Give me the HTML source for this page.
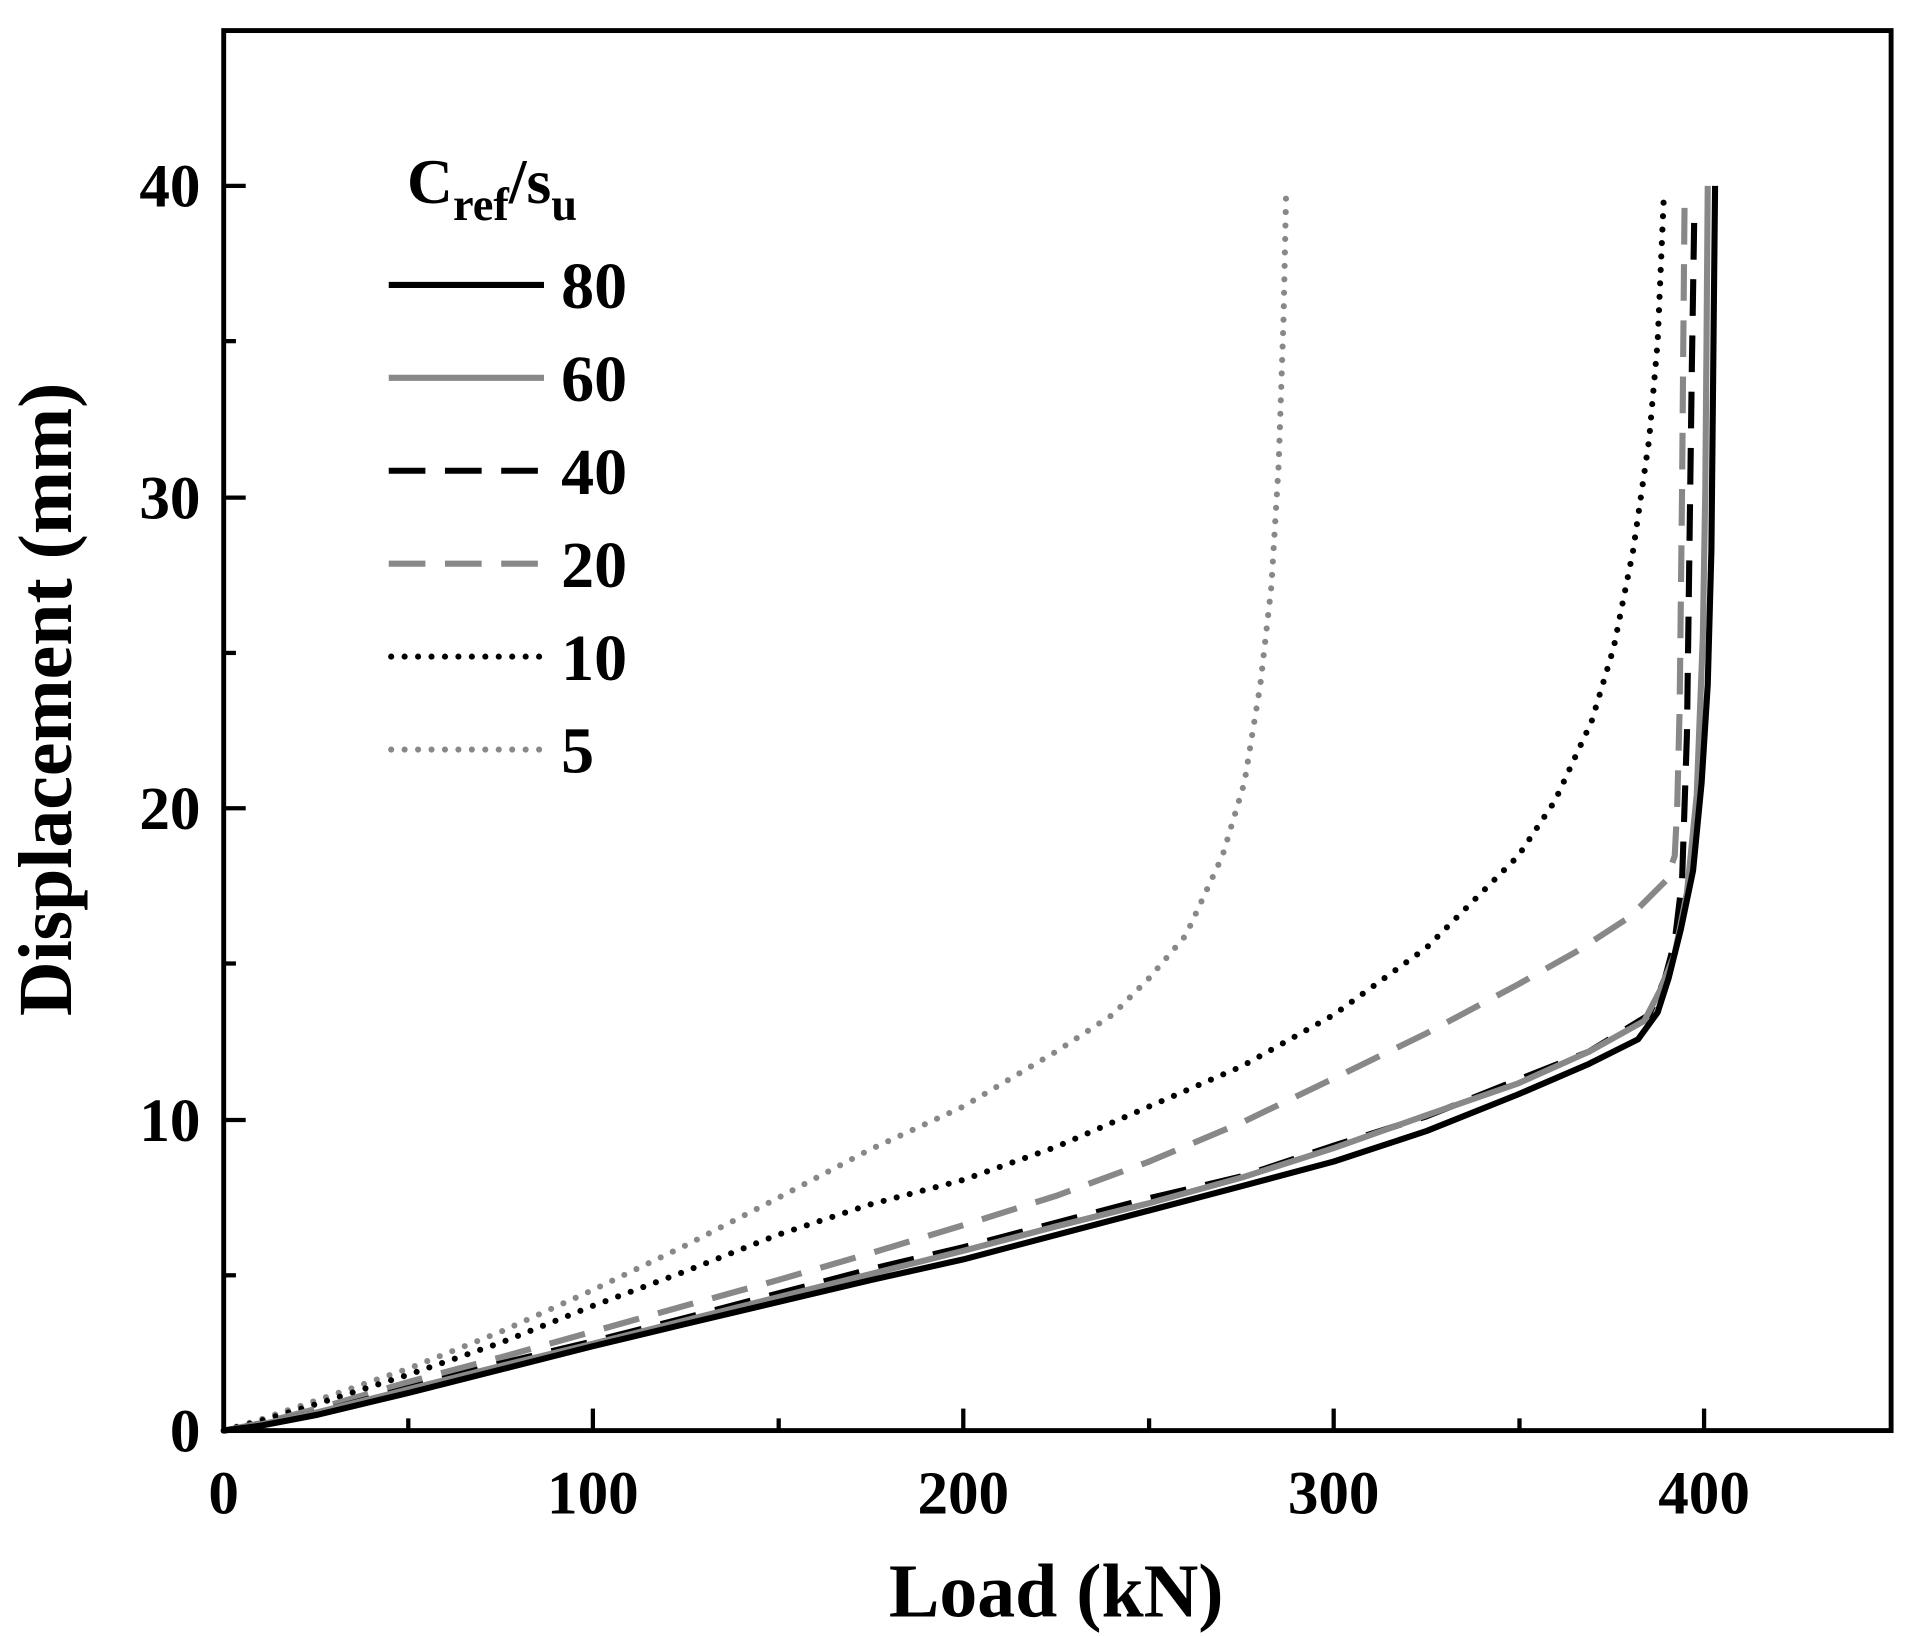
<!DOCTYPE html>
<html><head><style>html,body{margin:0;padding:0;background:#fff}svg{display:block}</style></head>
<body>
<svg width="1907" height="1636" viewBox="0 0 1560 1338" preserveAspectRatio="none" xmlns="http://www.w3.org/2000/svg" font-family="Liberation Serif, serif" font-weight="bold">
<g fill="none" stroke-linejoin="round">
<path d="M183,1170 L213,1161 L260,1145 L335,1119 L410,1089 L485,1055 L560,1019 L636,980 L712,940 L788,905 L864,860 L910,830 L940,800 L970,765 L1000,700 L1018,640 L1031,560 L1040,480 L1046,380 L1050,260 L1052,162" stroke="#888" stroke-width="5" stroke-dasharray="0 11" stroke-linecap="round"/>
<path d="M183,1170 L213,1162 L260,1148 L335,1124 L410,1098 L485,1068 L560,1040 L636,1010 L712,985 L788,965 L864,938 L940,905 L1016,872 L1091,830 L1167,775 L1242,700 L1272,655 L1302,590 L1320,530 L1336,450 L1349,360 L1356,280 L1361,162" stroke="#000" stroke-width="5" stroke-dasharray="0 11" stroke-linecap="round"/>
<path d="M183,1170 L213,1164 L260,1152 L335,1130 L410,1110 L485,1089 L560,1068 L636,1047 L712,1025 L788,1002 L864,978 L940,950 L1016,918 L1091,882 L1167,845 L1242,805 L1290,778 L1333,750 L1363,720 L1370,700 L1372,660 L1374,580 L1376,400 L1377,280 L1378,170" stroke="#888" stroke-width="5" stroke-dasharray="30 16"/>
<path d="M183,1170 L213,1165 L260,1155 L335,1135 L410,1115 L485,1097 L560,1078 L636,1058 L712,1038 L788,1020 L864,1000 L940,980 L1016,962 L1091,937 L1167,913 L1242,883 L1300,860 L1349,830 L1362,800 L1370,770 L1376,720 L1380,600 L1382,450 L1384,300 L1386,175" stroke="#000" stroke-width="5" stroke-dasharray="30 16"/>
<path d="M183,1170 L213,1165 L260,1155 L335,1136 L410,1117 L485,1099 L560,1080 L636,1061 L712,1042 L788,1023 L864,1003 L940,984 L1016,963 L1091,939 L1167,912 L1242,886 L1300,860 L1345,835 L1358,810 L1370,780 L1380,730 L1388,650 L1393,520 L1395,400 L1396,280 L1397,152" stroke="#888" stroke-width="5"/>
<path d="M183,1170 L213,1166 L260,1157 L335,1139 L410,1120 L485,1101 L560,1083 L636,1065 L712,1047 L788,1030 L864,1010 L940,990 L1016,970 L1091,950 L1167,925 L1242,895 L1300,870 L1340,850 L1356,828 L1365,800 L1375,760 L1385,712 L1392,640 L1397,560 L1400,450 L1401,350 L1402,250 L1403,152" stroke="#000" stroke-width="5"/>
</g>
<rect x="183" y="25" width="1364" height="1145" fill="none" stroke="#000" stroke-width="4"/>
<g stroke="#000" stroke-width="3.5">
<line x1="334" y1="1170" x2="334" y2="1160"/><line x1="485" y1="1170" x2="485" y2="1152"/>
<line x1="637" y1="1170" x2="637" y2="1160"/><line x1="788" y1="1170" x2="788" y2="1152"/>
<line x1="940" y1="1170" x2="940" y2="1160"/><line x1="1091" y1="1170" x2="1091" y2="1152"/>
<line x1="1243" y1="1170" x2="1243" y2="1160"/><line x1="1394" y1="1170" x2="1394" y2="1152"/>
<line x1="183" y1="1043" x2="193" y2="1043"/><line x1="183" y1="916" x2="201" y2="916"/>
<line x1="183" y1="788" x2="193" y2="788"/><line x1="183" y1="661" x2="201" y2="661"/>
<line x1="183" y1="534" x2="193" y2="534"/><line x1="183" y1="407" x2="201" y2="407"/>
<line x1="183" y1="279" x2="193" y2="279"/><line x1="183" y1="152" x2="201" y2="152"/>
</g>
<g font-size="50" text-anchor="middle">
<text x="183" y="1238">0</text><text x="485" y="1238">100</text><text x="788" y="1238">200</text><text x="1091" y="1238">300</text><text x="1394" y="1238">400</text>
</g>
<g font-size="50" text-anchor="end">
<text x="164" y="1187">0</text><text x="164" y="933">10</text><text x="164" y="678">20</text><text x="164" y="424">30</text><text x="164" y="169">40</text>
</g>
<text x="864" y="1322" font-size="62" text-anchor="middle">Load (kN)</text>
<text transform="translate(58,572) rotate(-90)" font-size="62" text-anchor="middle">Displacement (mm)</text>
<text x="333" y="166" font-size="52">C<tspan font-size="38" dy="14">ref</tspan><tspan dy="-14">/s</tspan><tspan font-size="38" dy="14">u</tspan></text>
<g stroke-width="5" fill="none">
<line x1="318" y1="233" x2="445" y2="233" stroke="#000"/>
<line x1="318" y1="309" x2="445" y2="309" stroke="#888"/>
<line x1="318" y1="385" x2="445" y2="385" stroke="#000" stroke-dasharray="30 16"/>
<line x1="318" y1="461" x2="445" y2="461" stroke="#888" stroke-dasharray="30 16"/>
<line x1="320" y1="537" x2="445" y2="537" stroke="#000" stroke-dasharray="0 11" stroke-linecap="round"/>
<line x1="320" y1="613" x2="445" y2="613" stroke="#888" stroke-dasharray="0 11" stroke-linecap="round"/>
</g>
<g font-size="54">
<text x="459" y="252">80</text><text x="459" y="328">60</text><text x="459" y="404">40</text>
<text x="459" y="480">20</text><text x="459" y="556">10</text><text x="459" y="632">5</text>
</g>
</svg>
</body></html>
